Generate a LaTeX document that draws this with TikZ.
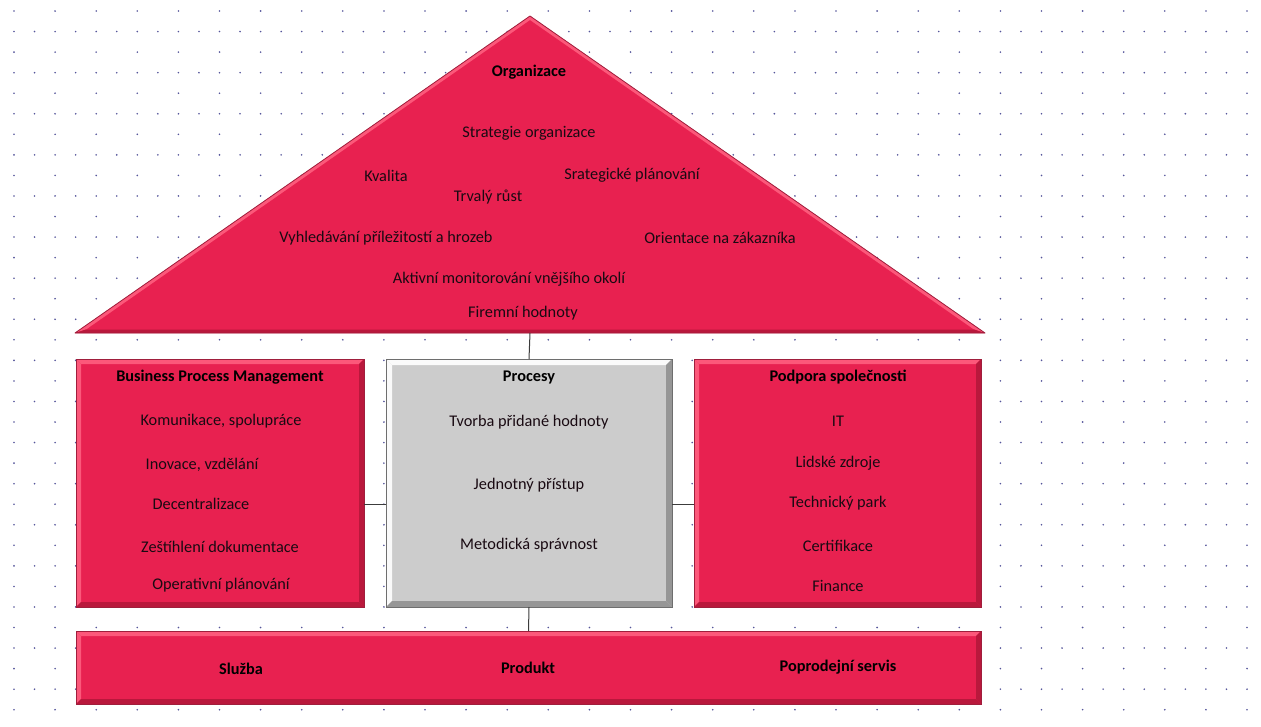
\documentclass[tikz,border=0pt]{standalone}
\usepackage{fontspec}
\setmainfont{Carlito}
\usetikzlibrary{calc}
\definecolor{crim}{RGB}{232,33,80}
\definecolor{crimL}{RGB}{252,88,122}
\definecolor{crimD}{RGB}{185,24,60}
\definecolor{crimO}{RGB}{160,30,60}
\definecolor{grF}{RGB}{204,204,204}
\definecolor{grL}{RGB}{250,250,250}
\definecolor{grD}{RGB}{150,150,150}
\definecolor{grO}{RGB}{110,110,110}
\definecolor{dotc}{RGB}{85,85,155}
\definecolor{txt}{RGB}{25,10,18}
\definecolor{linec}{RGB}{60,60,60}
\tikzset{
  t/.style={font=\fontsize{16.3}{18}\selectfont, text=txt, inner sep=0pt},
  tb/.style={font=\fontsize{16.3}{18}\selectfont\bfseries, text=black, inner sep=0pt},
  box/.style={draw=none, inner sep=0pt, outer sep=0pt},
  conn/.style={draw=linec, line width=1pt},
}
% bevel: #1 node name, #2 fill, #3 light, #4 dark, #5 outline, #6 band
\newcommand{\bevelbox}[6]{%
  \fill[#2] (#1.north west) rectangle (#1.south east);
  \fill[#3] (#1.north west) -- (#1.north east) -- ([shift={(-#6,#6)}]#1.north east) -- ([shift={(#6,#6)}]#1.north west) -- cycle;
  \fill[#3] (#1.north west) -- ([shift={(#6,#6)}]#1.north west) -- ([shift={(#6,-#6)}]#1.south west) -- (#1.south west) -- cycle;
  \fill[#4] (#1.north east) -- (#1.south east) -- ([shift={(-#6,-#6)}]#1.south east) -- ([shift={(-#6,#6)}]#1.north east) -- cycle;
  \fill[#4] (#1.south west) -- (#1.south east) -- ([shift={(-#6,-#6)}]#1.south east) -- ([shift={(#6,-#6)}]#1.south west) -- cycle;
  \draw[#5, line width=0.8pt] (#1.north west) rectangle (#1.south east);
}
\begin{document}
\begin{tikzpicture}[x=1pt,y=-1pt]
\useasboundingbox (0,0) rectangle (1261,726);
\fill[white] (0,0) rectangle (1261,726);
% dot grid
\foreach \k in {0,...,34}{
  \ifodd\k
    \foreach \j in {0,...,60}{\fill[dotc] ({14+20.55*\j},{11+20.55*\k}) circle (0.9);}
  \else
    \foreach \j in {0,2,...,60}{\fill[dotc] ({14+20.55*\j},{11+20.55*\k}) circle (0.9);}
  \fi
}
% roof
\coordinate (apex) at (530,16);
\coordinate (bl) at (75,333);
\coordinate (br) at (985,333);
\coordinate (apexi) at (530,20);
\coordinate (bli) at (86,329.5);
\coordinate (bri) at (974,329.5);
\coordinate (roofbase) at (530,333);
\fill[crim] (bl) -- (apex) -- (br) -- cycle;
\fill[crimL] (bl) -- (apex) -- (br) -- (bri) -- (apexi) -- (bli) -- cycle;
\fill[crimD] (bl) -- (br) -- (bri) -- (bli) -- cycle;
\draw[crimO, line width=0.8pt, line join=round] (bl) -- (apex) -- (br) -- cycle;
% boxes
\node[box, minimum width=288pt, minimum height=248pt] (bpm) at (220,483) {};
\node[box, minimum width=286pt, minimum height=248pt] (proc) at (529,483) {};
\node[box, minimum width=287pt, minimum height=248pt] (pod) at (837.5,483) {};
\node[box, minimum width=905pt, minimum height=73pt] (base) at (528.5,667.5) {};
\bevelbox{bpm}{crim}{crimL}{crimD}{crimO}{5}
\bevelbox{pod}{crim}{crimL}{crimD}{crimO}{5}
\bevelbox{base}{crim}{crimL}{crimD}{crimO}{5}
\bevelbox{proc}{grF}{grL}{grD}{grO}{6}
% connectors
\draw[conn] (roofbase) -- (proc.north);
\draw[conn] (proc.south) -- (base.north);
\draw[conn] ([yshift=-21pt]bpm.east) -- ([yshift=-21pt]proc.west);
\draw[conn] ([yshift=-21pt]proc.east) -- ([yshift=-21pt]pod.west);
% roof texts
\node[tb] (org) at (529,72.5) {Organizace};
\node[t] (r1) at (529,133.5) {Strategie organizace};
\node[t] (r2) at (386,175.5) {Kvalita};
\node[t] (r3) at (632,175.5) {Srategické plánování};
\node[t] (r4) at (488,197.5) {Trvalý růst};
\node[t] (r5) at (386,238.5) {Vyhledávání příležitostí a hrozeb};
\node[t] (r6) at (720,237.5) {Orientace na zákazníka};
\node[t] (r7) at (509,279.5) {Aktivní monitorování vnějšího okolí};
\node[t] (r8) at (523,313.5) {Firemní hodnoty};
% left box texts
\node[tb] (l0) at (220,377.5) {Business Process Management};
\node[t] (l1) at (221,421.5) {Komunikace, spolupráce};
\node[t] (l2) at (202,464.5) {Inovace, vzdělání};
\node[t] (l3) at (201,503.5) {Decentralizace};
\node[t] (l4) at (220,546.5) {Zeštíhlení dokumentace};
\node[t] (l5) at (221,585.5) {Operativní plánování};
% middle box texts
\node[tb] (m0) at (529,377.5) {Procesy};
\node[t] (m1) at (529,422.5) {Tvorba přidané hodnoty};
\node[t] (m2) at (529,485.5) {Jednotný přístup};
\node[t] (m3) at (529,545.5) {Metodická správnost};
% right box texts
\node[tb] (p0) at (838,377.5) {Podpora společnosti};
\node[t] (p1) at (838,421.5) {IT};
\node[t] (p2) at (838,463.5) {Lidské zdroje};
\node[t] (p3) at (838,503.5) {Technický park};
\node[t] (p4) at (838,545.5) {Certifikace};
\node[t] (p5) at (838,585.5) {Finance};
% base texts
\node[tb] (b1) at (241,668.5) {Služba};
\node[tb] (b2) at (528,667.5) {Produkt};
\node[tb] (b3) at (838,667.5) {Poprodejní servis};
\end{tikzpicture}
\end{document}
